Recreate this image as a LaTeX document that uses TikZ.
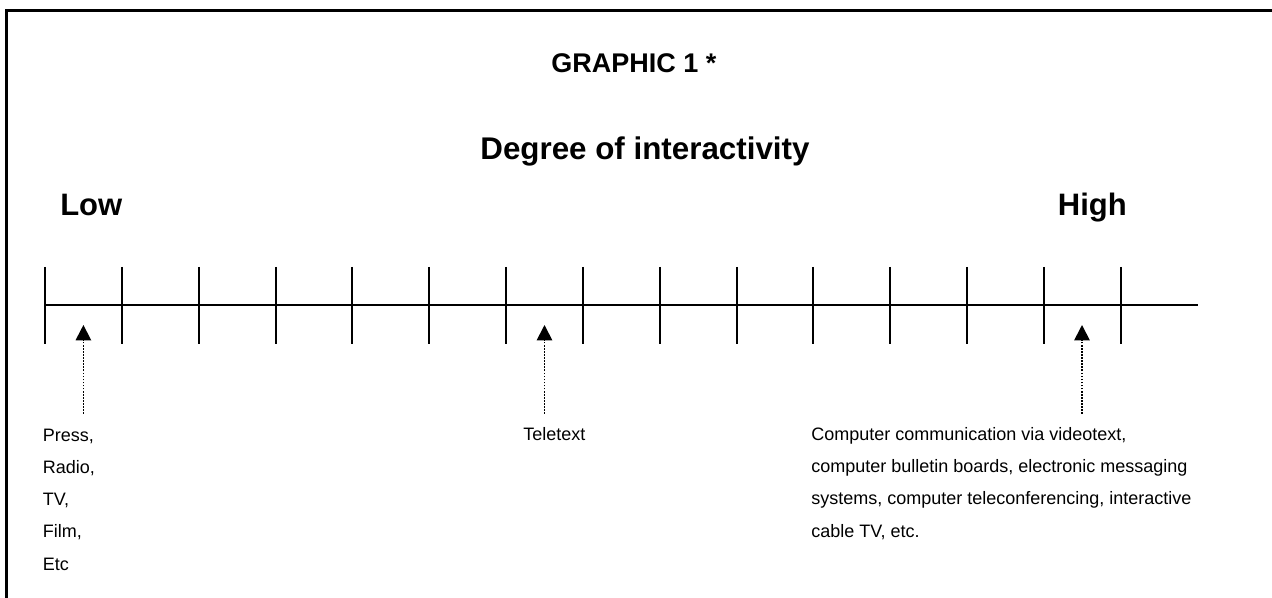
\documentclass[tikz,border=0pt]{standalone}
\usepackage{fontspec}
\setmainfont{Liberation Sans}
\usetikzlibrary{arrows.meta}

\begin{document}
\begin{tikzpicture}[x=0.75pt,y=-0.75pt,
  frameline/.style={line width=1.9pt},
  axisline/.style={line width=1.4pt},
  tickline/.style={line width=1.5pt},
  pointer/.style={line width=1.3pt, dash pattern=on 1.2pt off 1.1pt,
    -{Triangle[length=11.5pt,width=11.5pt]}},
  heading/.style={font=\bfseries\fontsize{20.25}{24}\selectfont, inner sep=0pt, anchor=base},
  bigtitle/.style={font=\bfseries\fontsize{23.5}{28}\selectfont, inner sep=0pt, anchor=base},
  endlabel/.style={font=\bfseries\fontsize{23.25}{28}\selectfont, inner sep=0pt},
  caption/.style={font=\fontsize{13.5}{24.2}\selectfont, inner sep=0pt, align=left, anchor=north west}
]
\useasboundingbox (0,0) rectangle (1272,598);
\clip (0,0) rectangle (1272,598);

% outer frame (runs off the right and bottom edges)
\draw[frameline] (6.5,610) -- (6.5,10.5) -- (1290,10.5);

% titles
\node[heading] (graphic) at (634,73) {GRAPHIC 1 *};
\node[bigtitle] (degree) at (645,160) {Degree of interactivity};
\node[endlabel, anchor=base west] (low) at (60,216) {Low};
\node[endlabel, anchor=base east] (high) at (1127,216) {High};

% scale: baseline and 15 ticks
\coordinate (a0) at (45,305);
\coordinate (aend) at (1198,305);
\draw[axisline] (a0) -- (aend);
\foreach \i in {0,...,14} {
  \pgfmathsetmacro{\tx}{45+76.84*\i}
  \coordinate (tu\i) at (\tx,267);
  \coordinate (td\i) at (\tx,344);
  \draw[tickline] (tu\i) -- (td\i);
}

% pointer tips (between ticks) and feet of the dotted stems
\coordinate (tipA) at (83.4,325);
\coordinate (footA) at (83.4,414);
\coordinate (tipB) at (544.5,325);
\coordinate (footB) at (544.5,414);
\coordinate (tipC) at (1082,325);
\coordinate (footC) at (1082,414);

% captions
\node[caption] (media) at (42.5,428.5) {Press,\\Radio,\\TV,\\Film,\\Etc};
\node[caption] (teletext) at (523,427.5) {Teletext};
\node[caption] (computer) at (811,427) {Computer communication via videotext,\\computer bulletin boards, electronic messaging\\systems, computer teleconferencing, interactive\\cable TV, etc.};

% dotted pointers
\draw[pointer] (footA) -- (tipA);
\draw[pointer] (footB) -- (tipB);
\draw[pointer] (footC) -- (tipC);
\end{tikzpicture}
\end{document}
